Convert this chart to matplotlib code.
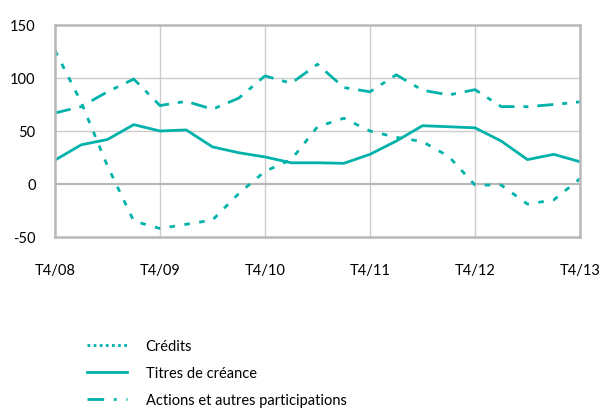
import matplotlib
matplotlib.use("Agg")
import matplotlib.pyplot as plt
from matplotlib.lines import Line2D

plt.rcParams['font.family'] = ['Lato', 'DejaVu Sans']

# Quarterly flows, T4/08 .. T4/13
quarters = list(range(21))
tick_labels = ["T4/08", "T4/09", "T4/10", "T4/11", "T4/12", "T4/13"]
tick_positions = [0, 4, 8, 12, 16, 20]

credits = [126, 77, 17, -35, -42, -38, -34, -9, 12, 23, 54, 62, 50, 44, 40, 26,
           -1, -1, -19, -15, 5]
titres = [22.5, 37, 42, 56, 50, 51, 35, 29.5, 25.5, 20, 20, 19.5, 28, 40.5, 55,
          54, 53, 40.5, 23, 28, 21]
actions = [67, 73, 87, 99, 74, 78, 70.5, 81, 102, 95, 113, 91, 87, 103, 88.5, 84,
           89, 73, 73, 75, 77.5]

teal = '#00b2a9'
frame = '#b8b8b8'
grid = '#cccccc'

fig = plt.figure(figsize=(6.05, 4.10), dpi=100)
ax = fig.add_axes([55/605, 1-238/410, 525/605, 212/410])

lw = 2.0
ax.plot(quarters, credits, color=teal, lw=lw, dashes=(2.0, 3.4), label="Crédits")
ax.plot(quarters, titres, color=teal, lw=lw, label="Titres de créance")
ax.plot(quarters, actions, color=teal, lw=lw, dashes=(5.8, 3.2, 1.8, 3.2),
        label="Actions et autres participations")

ax.set_xlim(0, 20)
ax.set_ylim(-50, 150)
ax.set_yticks([-50, 0, 50, 100, 150])
ax.set_yticklabels(["-50", "0", "50", "100", "150"])
ax.set_xticks(tick_positions)
ax.set_xticklabels(tick_labels)
ax.tick_params(axis='both', length=0, labelsize=10.5, colors='black')
ax.tick_params(axis='x', pad=19)
ax.tick_params(axis='y', pad=14)

for x in tick_positions[1:-1]:
    ax.axvline(x, color=grid, lw=1.0, zorder=0)
for y in [50, 100]:
    ax.axhline(y, color=grid, lw=1.0, zorder=0)
ax.axhline(0, color=frame, lw=1.6, zorder=0)

for s in ax.spines.values():
    s.set_color(frame)
    s.set_linewidth(1.8)

handles = [
    Line2D([], [], color=teal, lw=lw, dashes=(1.0, 1.2)),
    Line2D([], [], color=teal, lw=lw),
    Line2D([], [], color=teal, lw=lw, dashes=(6.0, 3.5, 1.0, 3.5)),
]
labels = ["Crédits", "Titres de créance", "Actions et autres participations"]
fig.legend(handles, labels, loc='upper left', bbox_to_anchor=(80/605, 1-333/410),
           frameon=False, fontsize=10.5, handlelength=2.7, handletextpad=1.3,
           labelspacing=0.88, borderpad=0)

fig.savefig("out.png", dpi=100)
